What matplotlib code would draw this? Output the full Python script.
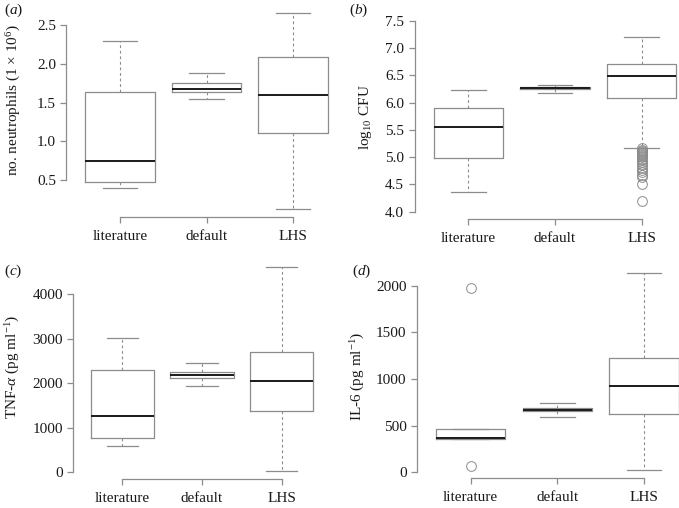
import matplotlib
matplotlib.use("Agg")
import matplotlib.pyplot as plt

plt.rcParams['font.family'] = ['Liberation Serif', 'DejaVu Serif']
plt.rcParams['mathtext.fontset'] = 'custom'
plt.rcParams['mathtext.rm'] = 'Liberation Serif'
plt.rcParams['mathtext.it'] = 'Liberation Serif:italic'

groups = ["literature", "default", "LHS"]

# Panel (a): no. neutrophils  [whislo, q1, med, q3, whishi]
neut_lit = [0.40, 0.47, 0.75, 1.63, 2.30]
neut_def = [1.54, 1.63, 1.68, 1.755, 1.88]
neut_lhs = [0.12, 1.11, 1.60, 2.09, 2.65]
neut_fliers = [[], [], []]

# Panel (b): log10 CFU
cfu_lit = [4.37, 4.98, 5.56, 5.90, 6.24]
cfu_def = [6.17, 6.246, 6.264, 6.283, 6.32]
cfu_lhs = [5.17, 6.09, 6.49, 6.71, 7.21]
cfu_fliers = [[], [], [5.16, 5.14, 5.12, 5.10, 5.08, 5.06, 5.04, 5.02, 5.00,
                      4.97, 4.94, 4.91, 4.88, 4.85, 4.81, 4.77, 4.73, 4.68,
                      4.63, 4.50, 4.19]]

# Panel (c): TNF-alpha
tnf_lit = [583, 762, 1260, 2302, 3020]
tnf_def = [1943, 2108, 2183, 2257, 2445]
tnf_lhs = [37, 1375, 2055, 2690, 4598]
tnf_fliers = [[], [], []]

# Panel (d): IL-6
il6_lit = [354, 354, 367, 461, 461]
il6_def = [596, 654, 671, 692, 746]
il6_lhs = [25, 621, 921, 1228, 2132]
il6_fliers = [[1970, 70], [], []]

W, H = 679, 508
fig = plt.figure(figsize=(W / 100, H / 100), dpi=100)

GRAY = "#8c8c8c"
TXT = "#1a1a1a"


def make_stats(rows, fliers):
    out = []
    for r, f in zip(rows, fliers):
        out.append(dict(whislo=r[0], q1=r[1], med=r[2], q3=r[3], whishi=r[4], fliers=f))
    return out


def panel(L, R, T, B, rows, fliers, ylim, yticks, yticklabels, ylabel, ylab_xy, letter, letter_xy):
    ax = fig.add_axes([L / W, (H - B) / H, (R - L) / W, (B - T) / H])
    stats = make_stats(rows, fliers)
    ax.bxp(stats, positions=[1, 2, 3], widths=0.8, capwidths=0.4,
           showfliers=True, patch_artist=False,
           boxprops=dict(color=GRAY, linewidth=0.9),
           whiskerprops=dict(color=GRAY, linewidth=0.8, linestyle=(0, (2.5, 2.5))),
           capprops=dict(color=GRAY, linewidth=0.9),
           medianprops=dict(color="#1a1a1a", linewidth=1.4),
           flierprops=dict(marker='o', markerfacecolor='none', markeredgecolor=GRAY,
                           markersize=7, markeredgewidth=0.7, linestyle='none'))
    ax.set_xlim(0.38, 3.62)
    ax.set_ylim(*ylim)
    for s in ["top", "right"]:
        ax.spines[s].set_visible(False)
    ax.spines["left"].set_bounds(yticks[0], yticks[-1])
    ax.spines["bottom"].set_bounds(1, 3)
    for s in ["left", "bottom"]:
        ax.spines[s].set_color(GRAY)
        ax.spines[s].set_linewidth(0.9)
    ax.set_xticks([1, 2, 3])
    ax.set_xticklabels(groups)
    ax.set_yticks(yticks)
    ax.set_yticklabels(yticklabels)
    ax.tick_params(axis='both', colors=GRAY, labelcolor=TXT, labelsize=11,
                   length=4.5, width=0.9, direction='out')
    ax.tick_params(axis='x', pad=5)
    ax.tick_params(axis='y', pad=3)
    ax.patch.set_alpha(0)
    fig.text(ylab_xy[0] / W, 1 - ylab_xy[1] / H, ylabel, rotation=90,
             ha='center', va='center', fontsize=11, color=TXT)
    fig.text(letter_xy[0] / W, 1 - letter_xy[1] / H, letter, ha='left', va='center',
             fontsize=11, color=TXT)
    return ax


panel(66.4, 346.6, 5.5, 217.3, [neut_lit, neut_def, neut_lhs], neut_fliers,
      (0.019, 2.752), [0.5, 1.0, 1.5, 2.0, 2.5], ["0.5", "1.0", "1.5", "2.0", "2.5"],
      r"no. neutrophils (1 $\times$ 10$^{6}$)", (14, 100), r"($\it{a}$)", (4, 10))

panel(414.5, 695.4, 13.3, 219.3, [cfu_lit, cfu_def, cfu_lhs], cfu_fliers,
      (3.86, 7.64), [4.0, 4.5, 5.0, 5.5, 6.0, 6.5, 7.0, 7.5],
      ["4.0", "4.5", "5.0", "5.5", "6.0", "6.5", "7.0", "7.5"],
      r"log$_{10}$ CFU", (366, 117), r"($\it{b}$)", (349, 10))

panel(73.2, 330.8, 259, 479, [tnf_lit, tnf_def, tnf_lhs], tnf_fliers,
      (-150, 4785), [0, 1000, 2000, 3000, 4000], ["0", "1000", "2000", "3000", "4000"],
      r"TNF-$\it{\alpha}$ (pg ml$^{-1}$)", (13, 367), r"($\it{c}$)", (4, 271))

panel(417, 697.7, 265.5, 477.5, [il6_lit, il6_def, il6_lhs], il6_fliers,
      (-56, 2216), [0, 500, 1000, 1500, 2000], ["0", "500", "1000", "1500", "2000"],
      r"IL-6 (pg ml$^{-1}$)", (358, 376), r"($\it{d}$)", (352, 271))

fig.savefig("out.png", dpi=100)
